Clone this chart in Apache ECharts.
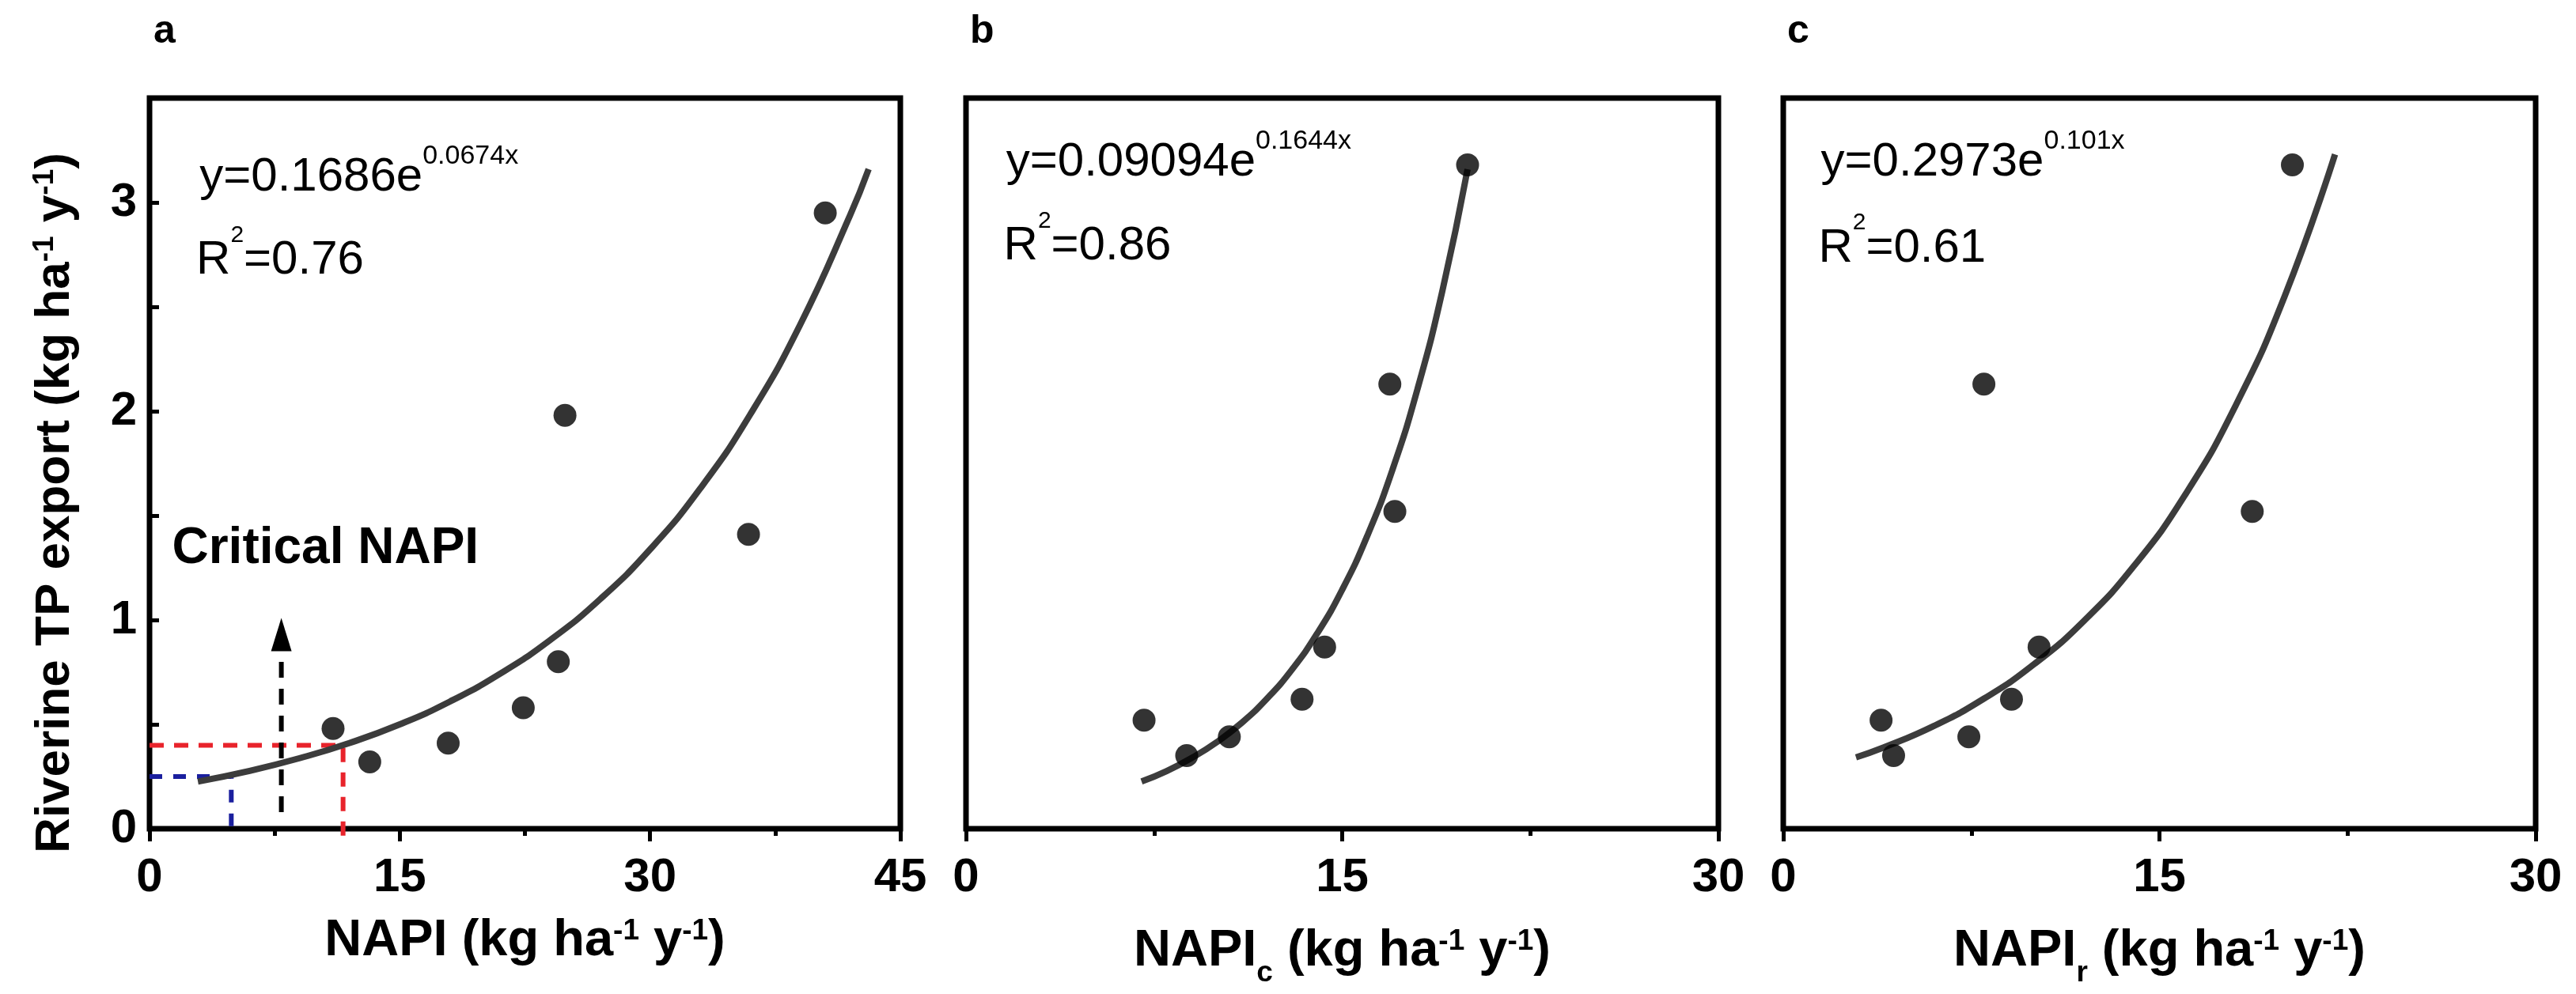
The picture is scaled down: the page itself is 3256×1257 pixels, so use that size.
<!DOCTYPE html>
<html>
<head>
<meta charset="utf-8">
<script src="https://cdn.jsdelivr.net/npm/echarts@6.0.0/dist/echarts.min.js"></script>
<style>
  html, body { margin: 0; padding: 0; background: #fff; }
  #chart { width: 3256px; height: 1257px; }
</style>
</head>
<body>
<div id="chart"></div>
<script>
const FONT = '"Liberation Sans", Arial, Helvetica, sans-serif';

// panel a : NAPI vs riverine TP export
const napiA = [11.0, 13.2, 17.9, 22.4, 24.5, 24.9, 35.9, 40.5];
const tpA   = [0.48, 0.32, 0.41, 0.58, 0.80, 1.98, 1.41, 2.95];
// fitted curve
const fitXA = [2.9, 6, 9, 12, 15, 18, 21, 24, 27, 30, 33, 36, 39, 42, 43.1];
const fitYA = [0.226, 0.277, 0.338, 0.411, 0.500, 0.609, 0.742, 0.903, 1.099, 1.338, 1.629, 1.984, 2.415, 2.941, 3.160];

// panel b : NAPIc
const napiB = [7.1, 8.8, 10.5, 13.4, 14.3, 16.9, 17.1, 20.0];
const tpB   = [0.52, 0.35, 0.44, 0.62, 0.87, 2.13, 1.52, 3.18];
const fitXB = [7, 8, 9, 10, 11, 12, 13, 14, 15, 16, 17, 18, 19, 20];
const fitYB = [0.226, 0.276, 0.339, 0.415, 0.508, 0.623, 0.763, 0.935, 1.145, 1.403, 1.718, 2.105, 2.579, 3.159];

// panel c : NAPIr
const napiC = [3.9, 4.4, 7.4, 8.0, 9.1, 10.2, 18.7, 20.3];
const tpC   = [0.52, 0.35, 0.44, 2.13, 0.62, 0.87, 1.52, 3.18];
const fitXC = [2.9, 4, 6, 8, 10, 12, 14, 16, 18, 20, 22];
const fitYC = [0.342, 0.389, 0.492, 0.623, 0.788, 0.997, 1.261, 1.595, 2.018, 2.553, 3.230];

// critical NAPI guides in panel a
const redGuideX  = [0, 11.6, 11.6];
const redGuideY  = [0.40, 0.40, -0.04];
const blueGuideX = [0, 4.9, 4.9];
const blueGuideY = [0.25, 0.25, -0.04];
const arrowX = [7.9, 7.9];
const arrowY = [0.08, 0.93];

const xMax = [45, 30, 30];
const yMax = 3.5;
const letters = ['a', 'b', 'c'];
const eqMain = ['y=0.1686e', 'y=0.09094e', 'y=0.2973e'];
const eqExp  = ['0.0674x', '0.1644x', '0.101x'];
const r2     = ['0.76', '0.86', '0.61'];
const xNames = [
    '{t|NAPI (kg ha}{u|-1}{t| y}{u|-1}{t|)}',
    '{t|NAPI}{d|c}{t| (kg ha}{u|-1}{t| y}{u|-1}{t|)}',
    '{t|NAPI}{d|r}{t| (kg ha}{u|-1}{t| y}{u|-1}{t|)}'
];
const yName = '{t|Riverine TP export (kg ha}{u|-1}{t| y}{u|-1}{t|)}';

// where the texts sit, in data units of each panel
const eqAnchor = [[3.0, 3.12], [1.6, 3.19], [1.5, 3.19]];
const r2Anchor = [[2.8, 2.72], [1.5, 2.79], [1.4, 2.78]];
const criticalAnchor = [1.35, 1.34];

const grids = [
    { left: 189, top: 124, width: 949, height: 924 },
    { left: 1221, top: 124, width: 951, height: 924 },
    { left: 2254, top: 124, width: 951, height: 924 },
];

const zip = (xs, ys) => xs.map((x, i) => [x, ys[i]]);

function titleRich(size) {
    return {
        t: { fontFamily: FONT, fontSize: size, fontWeight: 'bold', color: '#000', verticalAlign: 'middle' },
        u: { fontFamily: FONT, fontSize: 37, fontWeight: 'bold', color: '#000', verticalAlign: 'middle', padding: [0, 0, 26, 0] },
        d: { fontFamily: FONT, fontSize: 37, fontWeight: 'bold', color: '#000', verticalAlign: 'middle', padding: [54, 0, 0, 0] },
    };
}
const eqRich = {
    m: { fontFamily: FONT, fontSize: 60, color: '#000', verticalAlign: 'middle' },
    s: { fontFamily: FONT, fontSize: 34, color: '#000', verticalAlign: 'middle', padding: [0, 0, 54, 0] },
    r: { fontFamily: FONT, fontSize: 30, color: '#000', verticalAlign: 'middle', padding: [0, 0, 64, 0] },
};

let chart = echarts.init(document.getElementById('chart'), null, { renderer: 'canvas' });

let xAxes = [], yAxes = [], series = [];
grids.forEach((g, i) => {
    xAxes.push({
        gridIndex: i, type: 'value', min: 0, max: xMax[i], interval: 15,
        name: xNames[i], nameLocation: 'middle', nameGap: 110,
        nameTextStyle: { rich: titleRich(65) },
        axisLine: { show: false },
        axisTick: { show: true, inside: false, length: 16, lineStyle: { color: '#000', width: 5 } },
        minorTick: { show: true, splitNumber: 2, length: 9, lineStyle: { color: '#000', width: 5 } },
        axisLabel: { fontFamily: FONT, fontSize: 60, fontWeight: 'bold', color: '#000', margin: 32 },
        splitLine: { show: false },
    });
    yAxes.push({
        gridIndex: i, type: 'value', min: 0, max: yMax, interval: 0.5,
        name: i === 0 ? yName : '', nameLocation: 'middle', nameGap: 88, nameRotate: 90,
        nameTextStyle: { rich: titleRich(62), padding: [0, 100, 0, 0] },
        axisLine: { show: false },
        axisTick: { show: i === 0, inside: true, length: 12, lineStyle: { color: '#000', width: 5 } },
        axisLabel: {
            show: i === 0, fontFamily: FONT, fontSize: 60, fontWeight: 'bold', color: '#000', margin: 16,
            formatter: v => Number.isInteger(v) ? String(v) : ''
        },
        splitLine: { show: false },
    });
});

const fits = [zip(fitXA, fitYA), zip(fitXB, fitYB), zip(fitXC, fitYC)];
const points = [zip(napiA, tpA), zip(napiB, tpB), zip(napiC, tpC)];

// guides first so the curve and the dots cover them
series.push({
    type: 'line', xAxisIndex: 0, yAxisIndex: 0, data: zip(redGuideX, redGuideY),
    showSymbol: false, clip: false, z: 2, silent: true,
    lineStyle: { color: '#e8232b', width: 6, type: [18, 13] }
});
series.push({
    type: 'line', xAxisIndex: 0, yAxisIndex: 0, data: zip(blueGuideX, blueGuideY),
    showSymbol: false, clip: false, z: 2, silent: true,
    lineStyle: { color: '#1a1f9e', width: 6, type: [16, 14] }
});
series.push({
    type: 'line', xAxisIndex: 0, yAxisIndex: 0,
    data: [
        { value: [arrowX[0], arrowY[0]], symbol: 'none' },
        { value: [arrowX[1], arrowY[1]] }
    ],
    symbol: 'triangle', symbolSize: [26, 42], showSymbol: true, z: 2, silent: true,
    itemStyle: { color: '#000' },
    lineStyle: { color: '#000', width: 6, type: [20, 14] }
});

grids.forEach((g, i) => {
    series.push({
        type: 'line', xAxisIndex: i, yAxisIndex: i, data: fits[i],
        smooth: true, showSymbol: false, z: 3, silent: true,
        lineStyle: { color: '#3c3c3c', width: 8 }
    });
    series.push({
        type: 'scatter', xAxisIndex: i, yAxisIndex: i, data: points[i],
        symbolSize: 29, z: 4, itemStyle: { color: '#000' }
    });
});

chart.setOption({
    animation: false,
    backgroundColor: '#fff',
    grid: grids.map(g => Object.assign({ show: true, borderColor: '#000', borderWidth: 7, backgroundColor: 'transparent' }, g)),
    xAxis: xAxes,
    yAxis: yAxes,
    series: series,
});

// texts placed through each panel's own scale
let graphic = [];
grids.forEach((g, i) => {
    graphic.push({
        type: 'text', x: g.left + 5, y: 40, silent: true,
        style: { text: letters[i], fontFamily: FONT, fontSize: 50, fontWeight: 'bold', fill: '#000', verticalAlign: 'middle' }
    });
    let p = chart.convertToPixel({ gridIndex: i }, eqAnchor[i]);
    graphic.push({
        type: 'text', x: p[0], y: p[1], silent: true,
        style: { text: '{m|' + eqMain[i] + '}{s|' + eqExp[i] + '}', rich: eqRich, verticalAlign: 'middle', align: 'left' }
    });
    let q = chart.convertToPixel({ gridIndex: i }, r2Anchor[i]);
    graphic.push({
        type: 'text', x: q[0], y: q[1], silent: true,
        style: { text: '{m|R}{r|2}{m|=' + r2[i] + '}', rich: eqRich, verticalAlign: 'middle', align: 'left' }
    });
});
let c = chart.convertToPixel({ gridIndex: 0 }, criticalAnchor);
graphic.push({
    type: 'text', x: c[0], y: c[1], silent: true,
    style: { text: 'Critical NAPI', fontFamily: FONT, fontSize: 64, fontWeight: 'bold', fill: '#000', verticalAlign: 'middle' }
});
chart.setOption({ graphic: graphic });
</script>
</body>
</html>
